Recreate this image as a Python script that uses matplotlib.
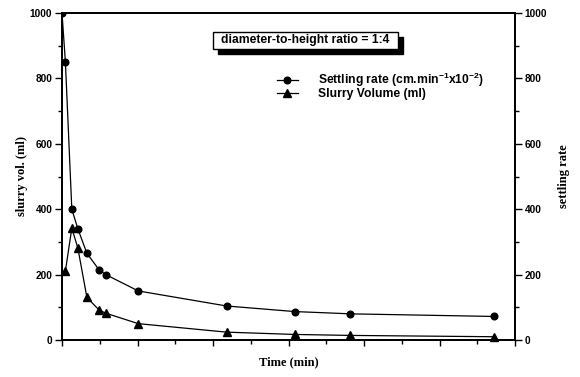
import matplotlib
matplotlib.use("Agg")
import matplotlib.pyplot as plt
from matplotlib.patches import Rectangle
from matplotlib.lines import Line2D
from matplotlib.ticker import MultipleLocator

plt.rcParams['mathtext.fontset'] = 'custom'
plt.rcParams['mathtext.rm'] = 'Liberation Sans:bold'
plt.rcParams['mathtext.it'] = 'Liberation Sans:bold'
plt.rcParams['mathtext.bf'] = 'Liberation Sans:bold'
plt.rcParams['mathtext.default'] = 'rm'

# Data (x in arbitrary time units)
rate_time = [0, 0.45, 1.3, 2.1, 3.3, 4.9, 5.8, 10.1, 21.8, 30.8, 38.2, 57.2]
rate_vals = [1000, 850, 400, 340, 265, 215, 200, 150, 104, 87, 80, 72]
vol_time = [0.45, 1.3, 2.1, 3.3, 4.9, 5.8, 10.1, 21.8, 30.8, 38.2, 57.2]
vol_vals = [211, 342, 281, 130, 92, 82, 50, 24, 17, 14, 10]

y_ticks = [0, 200, 400, 600, 800, 1000]
legend_labels = [r'Settling rate (cm.min$^{-1}$x10$^{-2}$)', 'Slurry Volume (ml)']
box_text = 'diameter-to-height ratio = 1:4'

W, H = 580, 377
fig = plt.figure(figsize=(W / 100, H / 100), dpi=100)
L, R, T, B = 62, 515, 13, 340
ax = fig.add_axes([L / W, (H - B) / H, (R - L) / W, (B - T) / H])

lw = 0.9
ax.plot(rate_time, rate_vals, '-o', color='black', lw=lw, ms=4.8, clip_on=True)
ax.plot(vol_time, vol_vals, '-^', color='black', lw=lw, ms=5.2, clip_on=False)

tick_font = dict(fontfamily='Liberation Sans', fontweight='bold', fontsize=7.3)
ax.set_xlim(0, 60)
ax.set_ylim(0, 1000)
ax.xaxis.set_major_locator(MultipleLocator(10))
ax.xaxis.set_minor_locator(MultipleLocator(5))
ax.yaxis.set_minor_locator(MultipleLocator(100))
ax.set_xticklabels([])
ax.set_yticks(y_ticks)
ax.set_yticklabels([str(v) for v in y_ticks], **tick_font)
ax.tick_params(axis='x', which='major', direction='out', length=4, width=1, top=False)
ax.tick_params(axis='x', which='minor', direction='out', length=3, width=1, top=False)
ax.tick_params(axis='y', which='major', direction='out', length=5, width=1, pad=2)
ax.tick_params(axis='y', which='minor', direction='out', length=3, width=1)
for s in ax.spines.values():
    s.set_linewidth(1.3)

ax2 = ax.twinx()
ax2.set_ylim(0, 1000)
ax2.yaxis.set_minor_locator(MultipleLocator(100))
ax2.set_yticks(y_ticks)
ax2.set_yticklabels([str(v) for v in y_ticks], **tick_font)
ax2.tick_params(axis='y', which='major', direction='out', length=5, width=1, pad=2)
ax2.tick_params(axis='y', which='minor', direction='out', length=3, width=1)
for s in ax2.spines.values():
    s.set_linewidth(1.3)

lab_font = dict(fontfamily='Liberation Serif', fontweight='bold', fontsize=9)
ax.set_ylabel('slurry vol. (ml)', labelpad=1, **lab_font)
ax2.set_ylabel('settling rate', labelpad=8, **lab_font)
ax.set_xlabel('Time (min)', labelpad=4, **lab_font)

# Annotation box with shadow
bx0, bx1, by0, by1 = 213, 398, 32, 49
sh = 5
fig.patches.append(Rectangle(((bx0 + sh) / W, (H - by1 - sh) / H), (bx1 - bx0) / W, (by1 - by0) / H,
                             transform=fig.transFigure, facecolor='black', edgecolor='black', zorder=5))
fig.patches.append(Rectangle((bx0 / W, (H - by1) / H), (bx1 - bx0) / W, (by1 - by0) / H,
                             transform=fig.transFigure, facecolor='white', edgecolor='black', lw=1, zorder=6))
fig.text((bx0 + bx1) / 2 / W, (H - (by0 + by1) / 2) / H, box_text, ha='center', va='center',
         fontfamily='Liberation Sans', fontweight='bold', fontsize=8.7, zorder=7)

# Legend
handles = [Line2D([], [], color='black', lw=lw, marker='o', ms=4.8),
           Line2D([], [], color='black', lw=lw, marker='^', ms=5.2)]
leg = ax2.legend(handles, legend_labels, loc='upper left',
                 bbox_to_anchor=((277 - L) / (R - L), (B - 71) / (B - T)),
                 frameon=False, handlelength=1.7, handletextpad=1.7, labelspacing=-0.12,
                 borderaxespad=0, borderpad=0,
                 prop=dict(family='Liberation Sans', weight='bold', size=8.7))

fig.savefig('out.png', dpi=100)
